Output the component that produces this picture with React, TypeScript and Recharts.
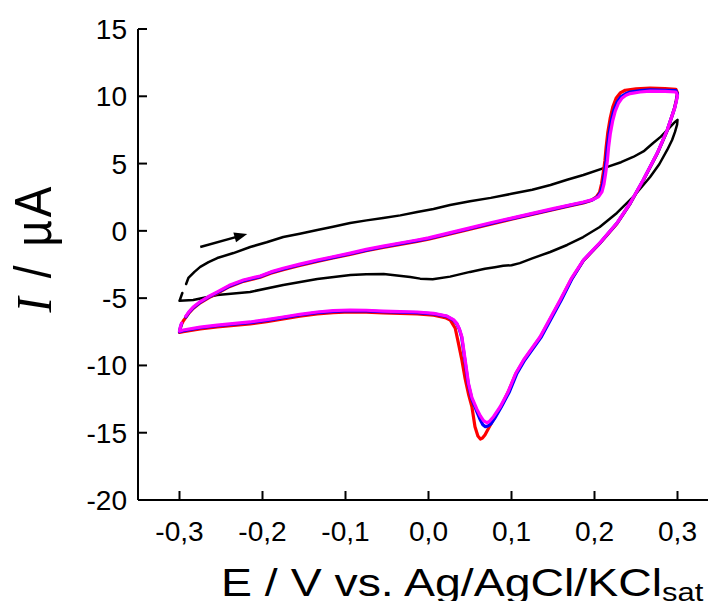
import React from 'react';
import { LineChart, Line, XAxis, YAxis, ReferenceLine } from 'recharts';

const xTicks = [-0.3, -0.2, -0.1, 0, 0.1, 0.2, 0.3];
const xTickLabels = ['-0,3', '-0,2', '-0,1', '0,0', '0,1', '0,2', '0,3'];
const yTicks = [-20, -15, -10, -5, 0, 5, 10, 15];
const xDomain = [-0.35, 0.35];
const yDomain = [-20, 15];

const xTitle = 'E / V vs. Ag/AgCl/KCl';
const xTitleSub = 'sat';
const yTitleItalic = 'I';
const yTitleRest = ' / µA';

// scan direction arrow [E, I]
const arrowFrom = [-0.275, -1.2];
const arrowTo = [-0.2184, -0.23];

// bare electrode (black)
const blackCurve: [number, number | null][] = [
  [-0.3, -5.2], [-0.2985, -4.95], [-0.2966, -4.62], [-0.2955, null], [-0.292, -3.95],
  [-0.2893, -3.5], [-0.282, -3.05], [-0.275, -2.68], [-0.265, -2.33], [-0.2545, -2.02],
  [-0.235, -1.65], [-0.2148, -1.2], [-0.195, -0.85], [-0.175, -0.46], [-0.155, -0.22],
  [-0.134, 0.06], [-0.115, 0.3], [-0.0944, 0.58], [-0.0746, 0.78], [-0.0546, 0.96],
  [-0.034, 1.15], [-0.0136, 1.4], [0.006, 1.62], [0.026, 1.92], [0.05, 2.2],
  [0.075, 2.45], [0.1, 2.75], [0.125, 3.05], [0.147, 3.41], [0.167, 3.8],
  [0.1866, 4.15], [0.2155, 4.75], [0.232, 5.1], [0.2466, 5.49], [0.26, 5.95],
  [0.2707, 6.53], [0.28, 7.0], [0.2876, 7.49], [0.297, 8.09], [0.3, 8.25],
  [0.2995, 7.9], [0.297, 7.35], [0.2935, 6.75], [0.2876, 6.01], [0.278, 4.95],
  [0.267, 4.0], [0.2466, 2.52], [0.227, 1.33], [0.2063, 0.29], [0.1864, -0.46],
  [0.167, -1.05], [0.1466, -1.57], [0.125, -2.05], [0.11, -2.4], [0.1, -2.55],
  [0.09, -2.6], [0.08, -2.7], [0.068, -2.82], [0.05, -3.05], [0.026, -3.4],
  [0.005, -3.6], [-0.01, -3.55], [-0.022, -3.43], [-0.054, -3.2], [-0.075, -3.22],
  [-0.094, -3.28], [-0.134, -3.58], [-0.175, -4.02], [-0.215, -4.54], [-0.2545, -4.77],
  [-0.2835, -5.14], [-0.3, -5.2],
];

// red curve
const redCurve: [number, number | null][] = [
  [-0.3, -7.55], [-0.2988, -7.2], [-0.2975, -6.95], [-0.2955, -6.7], [-0.2925, -6.45],
  [-0.2885, -6.1], [-0.2835, -5.76], [-0.275, -5.35], [-0.265, -4.98], [-0.2545, -4.64],
  [-0.24, -4.15], [-0.223, -3.75], [-0.2027, -3.45], [-0.19, -3.15], [-0.175, -2.88],
  [-0.155, -2.57], [-0.134, -2.27], [-0.115, -2.02], [-0.0944, -1.75], [-0.075, -1.48],
  [-0.0546, -1.23], [-0.034, -1.0], [-0.0136, -0.78], [0.0, -0.62], [0.025, -0.25],
  [0.05, 0.12], [0.075, 0.5], [0.1, 0.87], [0.125, 1.22], [0.15, 1.58],
  [0.17, 1.86], [0.1866, 2.08], [0.196, 2.26], [0.202, 2.5], [0.206, 2.85],
  [0.2085, 3.5], [0.2105, 4.3], [0.2125, 5.2], [0.214, 6.2], [0.216, 7.3],
  [0.219, 8.4], [0.222, 9.2], [0.226, 9.85], [0.231, 10.25], [0.237, 10.45],
  [0.25, 10.55], [0.267, 10.6], [0.285, 10.57], [0.298, 10.52], [0.3, 10.25],
  [0.2985, 9.7], [0.2965, 9.15], [0.2937, 8.6], [0.2876, 7.45], [0.2756, 5.74],
  [0.2586, 3.74], [0.243, 2.03], [0.227, 0.54], [0.2063, -0.94], [0.1866, -2.21],
  [0.172, -3.6], [0.1586, -5.2], [0.1345, -7.92], [0.1145, -9.65], [0.105, -10.65],
  [0.0965, -11.9], [0.0895, -12.8], [0.0824, -13.56], [0.0745, -14.43], [0.068, -15.17],
  [0.065, -15.4], [0.0625, -15.47], [0.0595, -15.25], [0.056, -14.55], [0.0523, -13.07],
  [0.0485, -12.2], [0.0442, -11.0], [0.0402, -9.6], [0.0361, -8.36], [0.0322, -7.24],
  [0.0261, -6.62], [0.02, -6.45], [0.0062, -6.27], [-0.0136, -6.17], [-0.034, -6.14],
  [-0.0546, -6.1], [-0.075, -6.04], [-0.0944, -6.02], [-0.115, -6.07], [-0.134, -6.17],
  [-0.155, -6.34], [-0.175, -6.54], [-0.195, -6.74], [-0.2148, -6.91], [-0.2545, -7.14],
  [-0.275, -7.29], [-0.2955, -7.5], [-0.3, -7.55],
];

// blue curve
const blueCurve: [number, number | null][] = [
  [-0.3, -7.5], [-0.2988, -7.15], [-0.2975, -6.9], [-0.2955, null], [-0.2925, -6.4],
  [-0.2885, -6.05], [-0.2835, -5.71], [-0.275, -5.3], [-0.265, -4.93], [-0.2545, -4.59],
  [-0.24, -4.1], [-0.223, -3.7], [-0.2027, -3.4], [-0.19, -3.1], [-0.175, -2.83],
  [-0.155, -2.52], [-0.134, -2.22], [-0.115, -1.97], [-0.0944, -1.7], [-0.075, -1.43],
  [-0.0546, -1.18], [-0.034, -0.95], [-0.0136, -0.73], [0.0, -0.57], [0.025, -0.2],
  [0.05, 0.17], [0.075, 0.55], [0.1, 0.91], [0.125, 1.26], [0.15, 1.61],
  [0.17, 1.89], [0.1866, 2.11], [0.197, 2.29], [0.2035, 2.52], [0.2075, 2.88],
  [0.21, 3.5], [0.212, 4.3], [0.214, 5.2], [0.2155, 6.2], [0.2175, 7.2],
  [0.2205, 8.25], [0.2235, 9.0], [0.2275, 9.6], [0.232, 9.98], [0.238, 10.2],
  [0.243, 10.32], [0.255, 10.43], [0.267, 10.47], [0.285, 10.45], [0.298, 10.42],
  [0.3, 10.15], [0.2985, 9.65], [0.2965, 9.12], [0.2937, 8.6], [0.2876, 7.47],
  [0.2756, 5.76], [0.2586, 3.76], [0.243, 2.05], [0.227, 0.56], [0.2063, -0.92],
  [0.1866, -2.19], [0.173, -3.55], [0.16, -5.14], [0.136, -7.87], [0.116, -9.6],
  [0.1065, -10.6], [0.0975, -11.95], [0.0875, -13.1], [0.0795, -13.95], [0.075, -14.35],
  [0.0715, -14.5], [0.0685, -14.55], [0.0655, -14.4], [0.062, -14.0], [0.058, -13.4],
  [0.052, -12.45], [0.0478, -11.35], [0.0438, -9.6], [0.04, -7.9], [0.0372, -7.32],
  [0.034, -6.9], [0.03, -6.63], [0.0222, -6.36], [0.0062, -6.17], [-0.0136, -6.08],
  [-0.034, -6.05], [-0.0546, -6.01], [-0.075, -5.95], [-0.0944, -5.93], [-0.115, -5.98],
  [-0.134, -6.08], [-0.155, -6.25], [-0.175, -6.45], [-0.195, -6.65], [-0.2148, -6.82],
  [-0.2545, -7.05], [-0.275, -7.2], [-0.2955, -7.42], [-0.3, -7.5],
];

// magenta curve
const magentaCurve: [number, number | null][] = [
  [-0.3, -7.45], [-0.2988, -7.1], [-0.2975, -6.85], [-0.2955, null], [-0.2925, -6.35],
  [-0.2885, -6.0], [-0.2835, -5.66], [-0.275, -5.25], [-0.265, -4.88], [-0.2545, -4.54],
  [-0.24, -4.05], [-0.223, -3.65], [-0.2027, -3.35], [-0.19, -3.05], [-0.175, -2.78],
  [-0.155, -2.47], [-0.134, -2.17], [-0.115, -1.92], [-0.0944, -1.65], [-0.075, -1.38],
  [-0.0546, -1.13], [-0.034, -0.9], [-0.0136, -0.68], [0.0, -0.52], [0.025, -0.15],
  [0.05, 0.22], [0.075, 0.6], [0.1, 0.95], [0.125, 1.3], [0.15, 1.65],
  [0.17, 1.92], [0.1866, 2.14], [0.198, 2.32], [0.205, 2.55], [0.209, 2.9],
  [0.2115, 3.5], [0.2135, 4.3], [0.2155, 5.2], [0.217, 6.2], [0.219, 7.2],
  [0.222, 8.2], [0.225, 8.9], [0.229, 9.5], [0.233, 9.85], [0.238, 10.08],
  [0.243, 10.2], [0.255, 10.32], [0.267, 10.38], [0.285, 10.36], [0.298, 10.32],
  [0.3, 10.05], [0.2985, 9.6], [0.2965, 9.1], [0.2937, 8.6], [0.2876, 7.49],
  [0.2756, 5.78], [0.2586, 3.78], [0.243, 2.07], [0.227, 0.58], [0.2063, -0.9],
  [0.1866, -2.17], [0.172, -3.55], [0.1586, -5.14], [0.1345, -7.87], [0.1145, -9.6],
  [0.105, -10.6], [0.096, -11.95], [0.0864, -13.07], [0.0783, -13.81], [0.0735, -14.15],
  [0.0704, -14.26], [0.0663, -14.1], [0.0625, -13.75], [0.0583, -13.25], [0.0523, -12.4],
  [0.0482, -11.33], [0.0442, -9.6], [0.0402, -7.87], [0.0374, -7.3], [0.0342, -6.87],
  [0.0301, -6.6], [0.0222, -6.33], [0.0062, -6.13], [-0.0136, -6.03], [-0.034, -6.0],
  [-0.0546, -5.96], [-0.075, -5.9], [-0.0944, -5.88], [-0.115, -5.93], [-0.134, -6.03],
  [-0.155, -6.2], [-0.175, -6.4], [-0.195, -6.6], [-0.2148, -6.77], [-0.2545, -7.0],
  [-0.275, -7.15], [-0.2955, -7.37], [-0.3, -7.45],
];

const toRows = (c: [number, number | null][]) => c.map(([E, I]) => ({ E, I }));

const SANS = '"Liberation Sans", Arial, Helvetica, sans-serif';
const SERIF = '"Liberation Serif", "Times New Roman", serif';

const XTick = (props: any) => {
  const { x, y, payload } = props;
  const i = xTicks.findIndex((t) => Math.abs(t - payload.value) < 1e-9);
  const label = i >= 0 ? xTickLabels[i] : String(payload.value);
  return (
    <g>
      <line x1={x} x2={x} y1={y} y2={y - 9} stroke="#000" strokeWidth={2} />
      <text
        transform={`translate(${x},${y + 41}) scale(1.04,1)`}
        textAnchor="middle"
        fontSize={27}
        fontFamily={SANS}
        fill="#000"
      >
        {label}
      </text>
    </g>
  );
};

const YTick = (props: any) => {
  const { x, y, payload } = props;
  return (
    <g>
      <line x1={x} x2={x + 9} y1={y} y2={y} stroke="#000" strokeWidth={2} />
      <text
        transform={`translate(${x - 11},${y + 10}) scale(1.04,1)`}
        textAnchor="end"
        fontSize={27}
        fontFamily={SANS}
        fill="#000"
      >
        {String(payload.value)}
      </text>
    </g>
  );
};

const XTitle = (props: any) => {
  const vb = props.viewBox || { x: 138, y: 500 };
  return (
    <text
      transform={`translate(${vb.x + 83},${vb.y + 96}) scale(1.19,1)`}
      fontSize={39}
      fontFamily={SANS}
      fill="#000"
      textAnchor="start"
    >
      {xTitle}
      <tspan fontSize={26} dy={5}>{xTitleSub}</tspan>
    </text>
  );
};

const YTitle = (props: any) => {
  const vb = props.viewBox || { x: 0, y: 29, height: 471 };
  const cy = 248;
  return (
    <text
      transform={`translate(${vb.x + 51},${cy}) rotate(-90) scale(1,1.12)`}
      textAnchor="middle"
      fontSize={46}
      fontFamily={SANS}
      fill="#000"
      letterSpacing={3}
    >
      <tspan fontFamily={SERIF} fontStyle="italic">{yTitleItalic}</tspan>
      {yTitleRest}
    </text>
  );
};

const ArrowShape = (props: any) => {
  const { x1, y1, x2, y2 } = props;
  if ([x1, y1, x2, y2].some((v) => typeof v !== 'number' || isNaN(v))) return <g />;
  const ang = Math.atan2(y2 - y1, x2 - x1);
  const len = 13;
  const half = 5;
  const bx = x2 - len * Math.cos(ang);
  const by = y2 - len * Math.sin(ang);
  const px = -Math.sin(ang) * half;
  const py = Math.cos(ang) * half;
  return (
    <g>
      <line x1={x1} y1={y1} x2={bx + 2 * Math.cos(ang)} y2={by + 2 * Math.sin(ang)} stroke="#000" strokeWidth={2.5} />
      <polygon points={`${x2},${y2} ${bx + px},${by + py} ${bx - px},${by - py}`} fill="#000" />
    </g>
  );
};

export default function App() {
  const lineCommon = {
    xAxisId: 'b',
    yAxisId: 'l',
    dataKey: 'I',
    type: 'linear' as const,
    dot: false,
    activeDot: false,
    isAnimationActive: false,
    connectNulls: false,
    strokeLinejoin: 'round' as const,
    strokeLinecap: 'round' as const,
  };
  return (
    <div
      style={{
        position: 'absolute',
        left: 0,
        top: 0,
        width: 708,
        height: 601,
        overflow: 'hidden',
        background: '#fff',
      }}
    >
      <LineChart width={740} height={601} margin={{ top: 29, right: 21, bottom: 0, left: 0 }}>
        <XAxis
          xAxisId="b"
          type="number"
          dataKey="E"
          domain={xDomain}
          ticks={xTicks}
          interval={0}
          allowDataOverflow
          orientation="bottom"
          height={101}
          tickSize={0}
          tickMargin={0}
          tickLine={false}
          axisLine={{ stroke: '#000', strokeWidth: 2 }}
          tick={XTick}
          label={{ content: XTitle }}
        />
        <XAxis
          xAxisId="t"
          type="number"
          dataKey="E"
          domain={xDomain}
          allowDataOverflow
          orientation="top"
          height={0}
          tick={false}
          tickLine={false}
          axisLine={{ stroke: '#000', strokeWidth: 2 }}
        />
        <YAxis
          yAxisId="l"
          type="number"
          domain={yDomain}
          ticks={yTicks}
          interval={0}
          allowDataOverflow
          width={138}
          tickSize={0}
          tickMargin={0}
          tickLine={false}
          axisLine={{ stroke: '#000', strokeWidth: 2 }}
          tick={YTick}
          label={{ content: YTitle }}
        />
        <YAxis
          yAxisId="r"
          type="number"
          orientation="right"
          domain={yDomain}
          allowDataOverflow
          width={0}
          tick={false}
          tickLine={false}
          axisLine={{ stroke: '#000', strokeWidth: 2 }}
        />
        <Line {...lineCommon} data={toRows(blackCurve)} stroke="#000000" strokeWidth={2.5} />
        <Line {...lineCommon} data={toRows(redCurve)} stroke="#ff0000" strokeWidth={3.2} />
        <Line {...lineCommon} data={toRows(blueCurve)} stroke="#0000ff" strokeWidth={3.2} />
        <Line {...lineCommon} data={toRows(magentaCurve)} stroke="#ff00ff" strokeWidth={3.2} />
        <ReferenceLine
          xAxisId="b"
          yAxisId="l"
          segment={[
            { x: arrowFrom[0], y: arrowFrom[1] },
            { x: arrowTo[0], y: arrowTo[1] },
          ]}
          shape={ArrowShape}
        />
      </LineChart>
    </div>
  );
}
